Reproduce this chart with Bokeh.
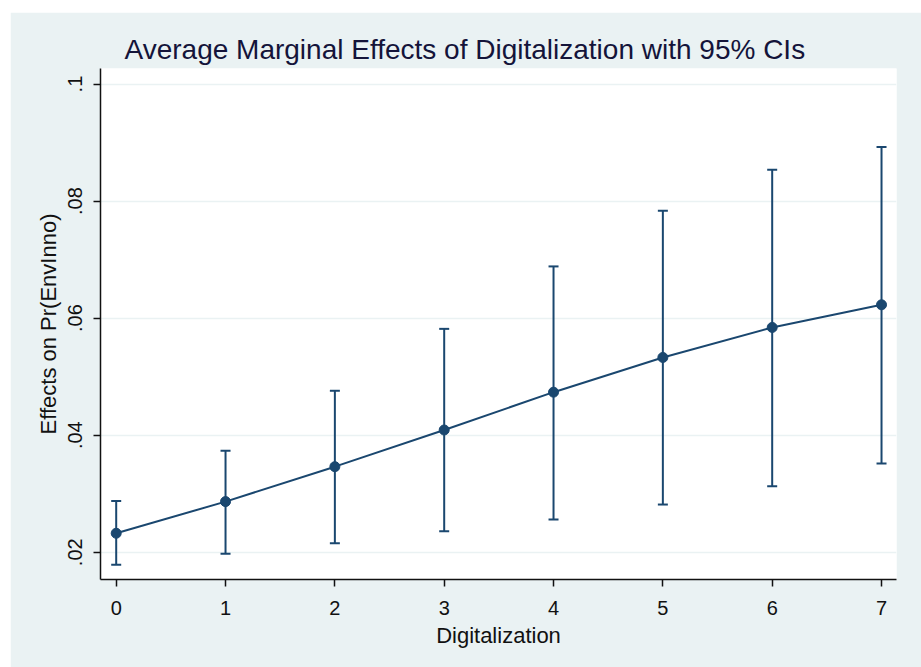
from bokeh.plotting import figure
from bokeh.models import (ColumnDataSource, Whisker, TeeHead, FixedTicker,
                          CustomJSTickFormatter, Title, Range1d)
from bokeh.embed import file_html
from bokeh.resources import INLINE

# ---- data ----
digitalization = [0, 1, 2, 3, 4, 5, 6, 7]
margin = [0.02324, 0.02865, 0.03462, 0.04089, 0.04735, 0.05328, 0.05841, 0.06228]
ci_upper = [0.02877, 0.03736, 0.04759, 0.05817, 0.06884, 0.07834, 0.08535, 0.08923]
ci_lower = [0.01785, 0.01973, 0.02154, 0.02358, 0.02559, 0.02815, 0.03128, 0.03516]
y_ticks = [0.02, 0.04, 0.06, 0.08, 0.1]
x_ticks = [0, 1, 2, 3, 4, 5, 6, 7]

title_text = "Average Marginal Effects of Digitalization with 95% CIs"
x_title = "Digitalization"
y_title = "Effects on Pr(EnvInno)"

# ---- style ----
BG = "#EAF2F3"
NAVY = "#1A476F"
FONT = "Liberation Sans"

src = ColumnDataSource(dict(x=digitalization, y=margin, upper=ci_upper, lower=ci_lower))

p = figure(width=911, height=655, output_backend="svg", toolbar_location=None,
           x_range=Range1d(-0.1436, 7.137), y_range=Range1d(0.01534, 0.10266),
           min_border_left=90, min_border_right=25, min_border_top=56, min_border_bottom=88)
p.styles = {"margin-left": "10px", "margin-top": "12px"}
p.background_fill_color = "white"
p.border_fill_color = BG
p.outline_line_color = None

t = Title(text=title_text, align="left", offset=24, standoff=7,
          text_font=FONT, text_font_size="28px", text_font_style="normal",
          text_color="#14143a")
p.add_layout(t, "above")

# grid
p.xgrid.visible = False
p.ygrid.grid_line_color = BG
p.ygrid.grid_line_width = 1.5
p.ygrid.ticker = FixedTicker(ticks=y_ticks)

# axes
for ax in (p.xaxis[0], p.yaxis[0]):
    ax.axis_line_color = "#111111"
    ax.axis_line_width = 1.5
    ax.major_tick_line_color = "#111111"
    ax.major_tick_line_width = 1.5
    ax.major_tick_out = 7
    ax.major_tick_in = 0
    ax.minor_tick_line_color = None
    ax.major_label_text_font = FONT
    ax.major_label_text_font_size = "20px"
    ax.major_label_text_color = "#111111"
    ax.axis_label_text_font = FONT
    ax.axis_label_text_font_size = "22px"
    ax.axis_label_text_font_style = "normal"
    ax.axis_label_text_color = "#111111"

p.xaxis.ticker = FixedTicker(ticks=x_ticks)
p.xaxis.axis_label = x_title
p.xaxis.major_label_standoff = 14
p.xaxis.axis_label_standoff = 5

p.yaxis.ticker = FixedTicker(ticks=y_ticks)
p.yaxis.formatter = CustomJSTickFormatter(
    code="return tick.toFixed(2).replace(/^0/, '').replace(/0$/, '')")
p.yaxis.major_label_orientation = "vertical"
p.yaxis.axis_label = y_title
p.yaxis.major_label_standoff = 11
p.yaxis.axis_label_standoff = 5

# CIs
w = Whisker(base="x", upper="upper", lower="lower", source=src,
            line_color=NAVY, line_width=2, level="underlay",
            upper_head=TeeHead(size=10, line_color=NAVY, line_width=2),
            lower_head=TeeHead(size=10, line_color=NAVY, line_width=2))
p.add_layout(w)

p.line("x", "y", source=src, line_color=NAVY, line_width=2)
p.scatter("x", "y", source=src, size=10, fill_color=NAVY, line_color=NAVY)

open("out.html", "w").write(file_html(p, INLINE))
